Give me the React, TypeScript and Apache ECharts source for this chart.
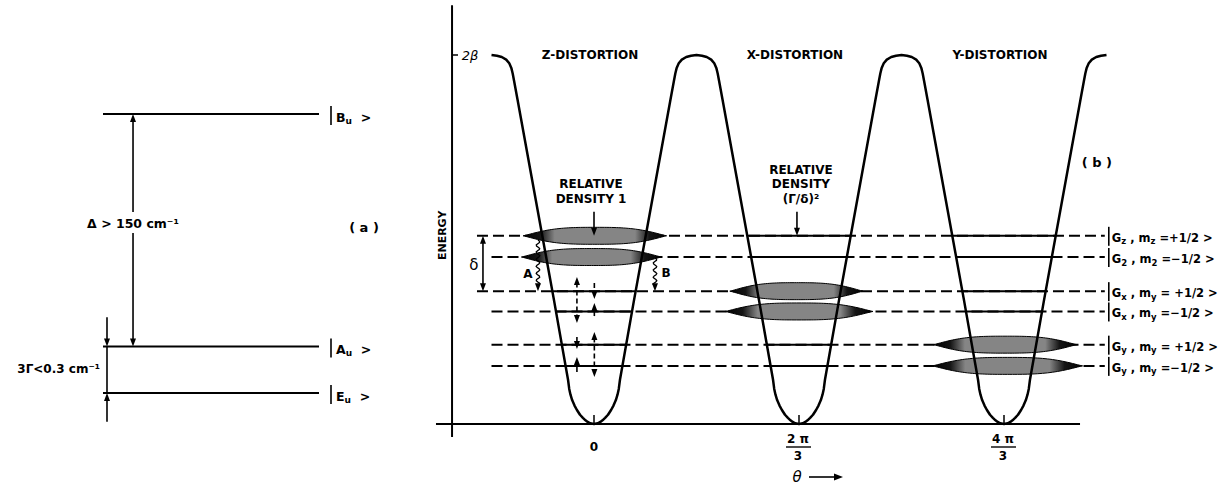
import { useEffect, useRef } from 'react';
import * as echarts from 'echarts';

const FONT = '"DejaVu Sans", "Liberation Sans", sans-serif';

// ---------------- panel (b): potential energy vs theta ----------------
const wellCentersDeg = [0, 120, 240];
const wellTickNumerators = ['0', '2 π', '4 π'];
const wellTickDenominators = ['', '3', '3'];
const distortionLabels = ['Z-DISTORTION', 'X-DISTORTION', 'Y-DISTORTION'];
const peakEnergy = 2; // 2β

// one well of the curve: energy (units of β) and half width (degrees of θ)
const profileEnergy = [0, 0.004, 0.011, 0.02, 0.033, 0.05, 0.076, 0.1, 0.13, 0.16, 0.19, 0.24, 0.67, 1.21, 1.76, 1.86, 1.9, 1.93, 1.955, 1.975, 1.989, 1.996, 2.0];
const profileHalfWidthDeg = [0, 2.2, 3.7, 5.0, 6.5, 8.2, 10.0, 11.4, 12.8, 13.8, 14.5, 15.2, 23.4, 34, 44.8, 46.8, 47.6, 48.4, 49.6, 51.4, 54.0, 56.8, 60];

// energy levels (dashed where classically forbidden)
const levelEnergy = [1.02, 0.905, 0.72, 0.61, 0.43, 0.315];
const levelStartDeg = [-68.5, -60, -68.5, -60, -60, -60];
const levelEndDeg = 299;
const levelLabelTokens = [
  ['G', 'z', ' , m', 'z', ' =+1/2 >'],
  ['G', '2', ' , m', '2', ' =−1/2 >'],
  ['G', 'x', ' , m', 'y', ' = +1/2 >'],
  ['G', 'x', ' , m', 'y', ' =−1/2 >'],
  ['G', 'y', ' , m', 'y', ' = +1/2 >'],
  ['G', 'y', ' , m', 'y', ' =−1/2 >'],
];

// shaded probability-density lenses
const lensLevelIndex = [0, 1, 2, 3, 4, 5];
const lensCenterDeg = [0.5, -1.5, 118.5, 120, 240.6, 242];
const lensHalfLengthDeg = [42, 41, 39, 43.3, 42, 44];

// axes of panel (b)
const energyAxisTheta = -83.1;
const energyAxisRange = [-0.07, 2.27];
const thetaAxisRange = [-92.5, 284.5];

// arrows: [theta, fromE, toE, headAtFrom, headAtTo, style(0 solid,1 dashed,2 wavy)]
const deltaArrow = [-65, 1.02, 0.72, 1, 1, 0];
const densityArrowsB = [
  [0, 1.15, 1.02, 0, 1, 0],
  [118.8, 1.15, 1.02, 0, 1, 0],
];
const relaxArrowA = [-32.8, 0.997, 0.72, 0, 1, 2];
const relaxArrowB = [35.7, 0.9, 0.72, 0, 1, 2];
const transitionArrows = [
  [-10, 0.797, 0.547, 1, 1, 1],
  [0.2, 0.764, 0.678, 0, 1, 1],
  [0.2, 0.585, 0.656, 0, 1, 1],
  [-10, 0.472, 0.407, 0, 1, 1],
  [-10, 0.282, 0.363, 0, 1, 1],
  [0.2, 0.499, 0.255, 1, 1, 1],
];
const densityTexts = [
  ['RELATIVE', 'DENSITY 1'],
  ['RELATIVE', 'DENSITY', '(Γ/δ)²'],
];

// ---------------- panel (a): level scheme ----------------
const stateLetters = ['B', 'A', 'E'];
const stateEnergy = [6, 1, 0];
const arrowsA = [
  [0.139, 3.89, 6, 0, 1, 0],
  [0.139, 3.44, 1, 0, 1, 0],
  [0.0185, 1.63, 1, 0, 1, 0],
  [0.0185, 1, 0, 0, 0, 0],
  [0.0185, -0.62, 0, 0, 1, 0],
];
const gapLabel = 'Δ > 150 cm⁻¹';
const splitLabel = '3Γ<0.3 cm⁻¹';

// ---------------- helpers ----------------
function halfWidthAt(e: number) {
  for (let k = 0; k < profileEnergy.length - 1; k++) {
    const a = profileEnergy[k], b = profileEnergy[k + 1];
    if (e >= a && e <= b) {
      const t = (e - a) / (b - a);
      return profileHalfWidthDeg[k] + t * (profileHalfWidthDeg[k + 1] - profileHalfWidthDeg[k]);
    }
  }
  return profileHalfWidthDeg[profileHalfWidthDeg.length - 1];
}

const curveData: number[][] = [];
wellCentersDeg.forEach((c, i) => {
  for (let k = profileEnergy.length - 1; k >= 0; k--) {
    if (i > 0 && k === profileEnergy.length - 1) continue;
    curveData.push([c - profileHalfWidthDeg[k], profileEnergy[k]]);
  }
  for (let k = 1; k < profileEnergy.length; k++) {
    curveData.push([c + profileHalfWidthDeg[k], profileEnergy[k]]);
  }
});

function arrowRender(_params: any, api: any) {
  const x = api.value(0), e0 = api.value(1), e1 = api.value(2);
  const h0 = api.value(3), h1 = api.value(4), st = api.value(5);
  const p0 = api.coord([x, e0]);
  const p1 = api.coord([x, e1]);
  const px = p0[0];
  const dir = Math.sign(p1[1] - p0[1]) || 1;
  const headLen = 8, headW = 3;
  const y0 = p0[1] + (h0 ? dir * headLen * 0.7 : 0);
  const y1 = p1[1] - (h1 ? dir * headLen * 0.7 : 0);
  const children: any[] = [];
  if (st === 2) {
    const pts: number[][] = [];
    const len = Math.abs(y1 - y0);
    const n = Math.max(4, Math.round(len / 1.2));
    for (let i = 0; i <= n; i++) {
      const y = y0 + ((y1 - y0) * i) / n;
      const d = (len * i) / n;
      pts.push([px + 1.8 * Math.sin((d / 7) * 2 * Math.PI), y]);
    }
    children.push({ type: 'polyline', shape: { points: pts }, style: { stroke: '#000', lineWidth: 1.3, fill: null } });
  } else {
    children.push({
      type: 'line',
      shape: { x1: px, y1: y0, x2: px, y2: y1 },
      style: { stroke: '#000', lineWidth: 1.6, lineDash: st === 1 ? [5, 3] : null },
    });
  }
  const head = (tip: number, d: number) => ({
    type: 'polygon',
    shape: { points: [[px, tip], [px - headW, tip - d * headLen], [px + headW, tip - d * headLen]] },
    style: { fill: '#000' },
  });
  if (h1) children.push(head(p1[1], dir));
  if (h0) children.push(head(p0[1], -dir));
  return { type: 'group', children };
}

function levelRender(_params: any, api: any) {
  const x0 = api.value(0), x1 = api.value(1), e = api.value(2), dashed = api.value(3);
  const p0 = api.coord([x0, e]);
  const p1 = api.coord([x1, e]);
  const children: any[] = [
    {
      type: 'line',
      shape: { x1: p0[0], y1: p0[1], x2: p1[0], y2: p1[1] },
      style: { stroke: '#000', lineWidth: 2, lineDash: dashed ? [11, 5] : null },
    },
  ];
  if (dashed) {
    const hw = halfWidthAt(e);
    wellCentersDeg.forEach((c) => {
      const a = api.coord([Math.max(x0, c - hw), e]);
      const b = api.coord([Math.min(x1, c + hw), e]);
      children.push({
        type: 'line',
        shape: { x1: a[0], y1: a[1], x2: b[0], y2: b[1] },
        style: { stroke: '#000', lineWidth: 2 },
      });
    });
  }
  return { type: 'group', children };
}

function lensRender(_params: any, api: any) {
  const cx = api.value(0), e = api.value(1), hl = api.value(2);
  const ht = 0.046;
  const top: number[][] = [];
  const bot: number[][] = [];
  const N = 60;
  for (let i = 0; i <= N; i++) {
    const t = -1 + (2 * i) / N;
    const h = ht * Math.pow(1 - Math.pow(Math.abs(t), 3), 1.2);
    top.push(api.coord([cx + hl * t, e + h]));
    bot.push(api.coord([cx + hl * t, e - h]));
  }
  return {
    type: 'polygon',
    shape: { points: top.concat(bot.reverse()) },
    style: {
      fill: new echarts.graphic.LinearGradient(0, 0, 1, 0, [
        { offset: 0, color: '#000' },
        { offset: 0.12, color: '#151515' },
        { offset: 0.22, color: '#858585' },
        { offset: 0.78, color: '#858585' },
        { offset: 0.88, color: '#151515' },
        { offset: 1, color: '#000' },
      ]),
      stroke: '#000',
      lineWidth: 1,
    },
  };
}

function segRender(_params: any, api: any) {
  const a = api.coord([api.value(0), api.value(1)]);
  const b = api.coord([api.value(2), api.value(3)]);
  return {
    type: 'line',
    shape: { x1: a[0], y1: a[1], x2: b[0], y2: b[1] },
    style: { stroke: '#000', lineWidth: api.value(4) },
  };
}

const axisSegments = [
  [energyAxisTheta, energyAxisRange[0], energyAxisTheta, energyAxisRange[1], 2],
  [thetaAxisRange[0], 0, thetaAxisRange[1], 0, 2],
  [energyAxisTheta, peakEnergy, energyAxisTheta + 3.5, peakEnergy, 1.5],
  ...wellCentersDeg.map((c) => [c, 0, c, 0.049, 1.5]),
];

function txt(x: number, y: number, text: string, o: any = {}) {
  const align = o.align ?? 'center';
  return {
    type: 'text',
    x,
    y,
    rotation: o.rotation ?? 0,
    silent: true,
    z: 100,
    style: {
      text,
      fill: '#000',
      fontFamily: FONT,
      fontSize: o.size ?? 12,
      fontWeight: o.weight ?? 'bold',
      fontStyle: o.fontStyle ?? 'normal',
      align,
      textAlign: align,
      verticalAlign: 'middle',
      textVerticalAlign: 'middle',
      rich: o.rich,
    },
  };
}
function seg(x1: number, y1: number, x2: number, y2: number, w = 1.5) {
  return { type: 'line', z: 100, silent: true, shape: { x1, y1, x2, y2 }, style: { stroke: '#000', lineWidth: w } };
}

const subRichB = {
  m: { fontSize: 11.5, fontWeight: 'bold', fontFamily: FONT, fill: '#000' },
  s: { fontSize: 8.5, fontWeight: 'bold', fontFamily: FONT, fill: '#000', padding: [7, 0, 0, 0] },
};
const subRichA = {
  m: { fontSize: 12.5, fontWeight: 'bold', fontFamily: FONT, fill: '#000' },
  s: { fontSize: 9, fontWeight: 'bold', fontFamily: FONT, fill: '#000', padding: [7, 0, 0, 0] },
};

export default function App() {
  const ref = useRef<HTMLDivElement>(null);
  useEffect(() => {
    const chart = echarts.init(ref.current!, null, { renderer: 'svg' });
    chart.setOption({
      animation: false,
      backgroundColor: '#fff',
      textStyle: { fontFamily: FONT },
      grid: [
        { left: 423.17, top: 1.495, width: 717.5, height: 468.63, outerBoundsMode: 'none' },
        { left: 103, top: 21, width: 216, height: 465, outerBoundsMode: 'none' },
      ],
      xAxis: [
        { gridIndex: 0, type: 'value', min: -100, max: 320, show: false },
        { gridIndex: 1, type: 'value', min: 0, max: 1, show: false },
      ],
      yAxis: [
        { gridIndex: 0, type: 'value', min: -0.25, max: 2.29, show: false },
        { gridIndex: 1, type: 'value', min: -2, max: 8, show: false },
      ],
      series: [
        {
          type: 'custom',
          name: 'levels',
          xAxisIndex: 0,
          yAxisIndex: 0,
          z: 2,
          renderItem: levelRender,
          encode: { x: [0, 1], y: 2 },
          data: levelEnergy.map((e, i) => [levelStartDeg[i], levelEndDeg, e, 1]),
        },
        {
          type: 'custom',
          name: 'lenses',
          xAxisIndex: 0,
          yAxisIndex: 0,
          z: 3,
          renderItem: lensRender,
          encode: { x: 0, y: 1 },
          data: lensCenterDeg.map((c, i) => [c, levelEnergy[lensLevelIndex[i]], lensHalfLengthDeg[i]]),
        },
        {
          type: 'line',
          name: 'potential',
          xAxisIndex: 0,
          yAxisIndex: 0,
          z: 4,
          data: curveData,
          showSymbol: false,
          smooth: false,
          lineStyle: { color: '#000', width: 2.5, join: 'round' },
        },
        {
          type: 'custom',
          name: 'axes',
          xAxisIndex: 0,
          yAxisIndex: 0,
          z: 4,
          renderItem: segRender,
          encode: { x: [0, 2], y: [1, 3] },
          data: axisSegments,
        },
        {
          type: 'custom',
          name: 'arrowsB',
          xAxisIndex: 0,
          yAxisIndex: 0,
          z: 5,
          renderItem: arrowRender,
          encode: { x: 0, y: [1, 2] },
          data: [deltaArrow, ...densityArrowsB, relaxArrowA, relaxArrowB, ...transitionArrows],
        },
        {
          type: 'custom',
          name: 'states',
          xAxisIndex: 1,
          yAxisIndex: 1,
          z: 2,
          renderItem: levelRender,
          encode: { x: [0, 1], y: 2 },
          data: stateEnergy.map((e) => [0, 1, e, 0]),
        },
        {
          type: 'custom',
          name: 'arrowsA',
          xAxisIndex: 1,
          yAxisIndex: 1,
          z: 5,
          renderItem: arrowRender,
          encode: { x: 0, y: [1, 2] },
          data: arrowsA,
        },
      ],
    });

    const pb = (x: number, e: number) => chart.convertToPixel({ gridIndex: 0 } as any, [x, e]) as number[];
    const pa = (x: number, e: number) => chart.convertToPixel({ gridIndex: 1 } as any, [x, e]) as number[];
    const g: any[] = [];

    // panel (b) texts
    const top = pb(energyAxisTheta, peakEnergy);
    g.push(txt(top[0] + 18, top[1], '2β', { align: 'center', fontStyle: 'italic', weight: 'normal', size: 13 }));
    wellCentersDeg.forEach((c, i) => {
      const p = pb(c, peakEnergy);
      g.push(txt(p[0] - 4, p[1], distortionLabels[i]));
      const b = pb(c, 0);
      if (wellTickDenominators[i]) {
        g.push(txt(b[0] - 1, b[1] + 15, wellTickNumerators[i]));
        g.push(seg(b[0] - 13, b[1] + 23, b[0] + 12, b[1] + 23, 1.4));
        g.push(txt(b[0] - 1, b[1] + 32, wellTickDenominators[i]));
      } else {
        g.push(txt(b[0], b[1] + 23, wellTickNumerators[i]));
      }
    });
    const en = pb(energyAxisTheta, (levelEnergy[0] + levelEnergy[1]) / 2 + 0.06);
    g.push(txt(en[0] - 10, en[1], 'ENERGY', { rotation: Math.PI / 2, size: 11 }));
    const dl = pb(deltaArrow[0], (deltaArrow[1] + deltaArrow[2]) / 2);
    g.push(txt(dl[0] - 9, dl[1] + 2, 'δ', { size: 15, weight: 'normal' }));
    const aP = pb(relaxArrowA[0], relaxArrowA[2]);
    g.push(txt(aP[0] - 10, aP[1] - 17, 'A'));
    const bP = pb(relaxArrowB[0], relaxArrowB[2]);
    g.push(txt(bP[0] + 11, bP[1] - 18, 'B'));
    densityArrowsB.forEach((a, i) => {
      const p = pb(a[0], a[1]);
      const lines = densityTexts[i];
      lines.forEach((s, j) => {
        g.push(txt(p[0] + (i === 0 ? -3 : 4), p[1] - 13 - 14.5 * (lines.length - 1 - j), s));
      });
    });
    const th = pb(wellCentersDeg[1], 0);
    g.push(txt(th[0] - 2, th[1] + 53, 'θ', { size: 15, weight: 'normal', fontStyle: 'italic' }));
    g.push(seg(th[0] + 10, th[1] + 53, th[0] + 38, th[1] + 53, 1.6));
    g.push({
      type: 'polygon',
      z: 100,
      shape: { points: [[th[0] + 44, th[1] + 53], [th[0] + 35, th[1] + 49.5], [th[0] + 35, th[1] + 56.5]] },
      style: { fill: '#000' },
    });
    const bl = pb(levelEndDeg, 1.42);
    g.push(txt(bl[0] - 8, bl[1], '( b )', { size: 13 }));
    levelEnergy.forEach((e, i) => {
      const p = pb(levelEndDeg, e);
      g.push(seg(p[0] + 4, p[1] - 9, p[0] + 4, p[1] + 10, 1.6));
      const t = levelLabelTokens[i];
      const str = `{m|${t[0]}}{s|${t[1]}}{m|${t[2]}}{s|${t[3]}}{m|${t[4]}}`;
      g.push(txt(p[0] + 7, p[1] + 2, str, { align: 'left', rich: subRichB }));
    });

    // panel (a) texts
    stateLetters.forEach((s, i) => {
      const p = pa(1, stateEnergy[i]);
      g.push(seg(p[0] + 12, p[1] - 8, p[0] + 12, p[1] + 11, 1.6));
      g.push(txt(p[0] + 17, p[1] + 3, `{m|${s}}{s|u}{m|  >}`, { align: 'left', rich: subRichA }));
    });
    const gp = pa(arrowsA[0][0], (arrowsA[0][1] + arrowsA[1][1]) / 2);
    g.push(txt(gp[0], gp[1] + 1, gapLabel, { size: 12.5 }));
    const sp = pa(arrowsA[3][0], 0.5);
    g.push(txt(sp[0] - 7, sp[1] - 1, splitLabel, { align: 'right', size: 12 }));
    const al = pa(1, 3.55);
    g.push(txt(al[0] + 45, al[1], '( a )', { size: 13 }));

    chart.setOption({ graphic: g });
    return () => chart.dispose();
  }, []);
  return (
    <div
      ref={ref}
      style={{ position: 'fixed', left: 0, top: 0, width: 1222, height: 487, background: '#fff' }}
    />
  );
}
